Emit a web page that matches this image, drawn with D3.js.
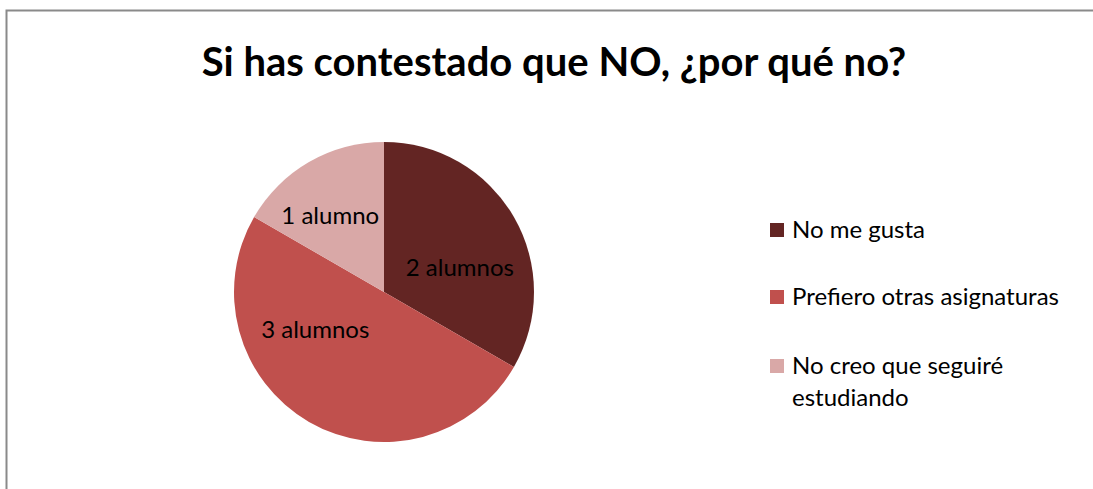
<!DOCTYPE html>
<html>
<head>
<meta charset="utf-8">
<script src="https://cdn.jsdelivr.net/npm/d3@7"></script>
<style>
	html, body { margin: 0; background: #fff; overflow: hidden; }
	svg { display: block; }
</style>
</head>
<body>
<div id="main"></div>
<script>
const title = "Si has contestado que NO, ¿por qué no?";
const categories = ["No me gusta", "Prefiero otras asignaturas", "No creo que seguiré estudiando"];
const values = [2, 3, 1];
const labels = ["2 alumnos", "3 alumnos", "1 alumno"];
const colors = ["#632523", "#c0504d", "#d9a8a7"];

const width = 1093,
	height = 489;
const font = "Lato, 'Open Sans', sans-serif";

const svg = d3
	.select("#main")
	.append("svg")
	.attr("width", width)
	.attr("height", height);

svg.append("rect")
	.attr("width", width)
	.attr("height", height)
	.attr("fill", "#fff");

// chart frame: only the top and left edges are inside the picture
svg.append("path")
	.attr("d", `M6.5,${height + 10}V10.5H${width + 10}`)
	.attr("fill", "none")
	.attr("stroke", "#8a8a8a")
	.attr("stroke-width", 2);

svg.append("text")
	.attr("x", 554)
	.attr("y", 76)
	.attr("text-anchor", "middle")
	.style("font-family", font)
	.style("font-weight", 700)
	.style("font-size", "40px")
	.style("fill", "#000")
	.text(title);

const cx = 384,
	cy = 292,
	r = 150;

const pie = d3.pie().sort(null).value((d) => d);
const arcs = pie(values);
const arc = d3.arc().innerRadius(0).outerRadius(r);

const g = svg.append("g").attr("transform", `translate(${cx},${cy})`);

g.selectAll("path.slice")
	.data(arcs)
	.enter()
	.append("path")
	.classed("slice", true)
	.attr("d", arc)
	.attr("fill", (d, i) => colors[i]);

// excel "best fit" moves the labels away from the plain centroid
const labelArc = d3.arc().innerRadius(r * 0.53).outerRadius(r * 0.53);
const nudge = [[7, 15], [-29, -31], [-14, -8]];

g.selectAll("text.lbl")
	.data(arcs)
	.enter()
	.append("text")
	.classed("lbl", true)
	.attr("transform", (d, i) => {
		const [x, y] = labelArc.centroid(d);
		return `translate(${x + nudge[i][0]},${y + nudge[i][1]})`;
	})
	.attr("text-anchor", "middle")
	.attr("dy", "0.35em")
	.style("font-family", font)
	.style("font-size", "24px")
	.style("fill", "#000")
	.text((d, i) => labels[i]);

// legend
const legendRows = [230, 297, 366];
const legend = svg.append("g").attr("transform", "translate(770,0)");
const items = legend
	.selectAll("g.item")
	.data(categories)
	.enter()
	.append("g")
	.classed("item", true)
	.attr("transform", (d, i) => `translate(0,${legendRows[i]})`);

items.append("rect")
	.attr("x", 0)
	.attr("y", -7)
	.attr("width", 14)
	.attr("height", 14)
	.attr("fill", (d, i) => colors[i]);

items.each(function (d) {
	const t = d3
		.select(this)
		.append("text")
		.attr("x", 22)
		.attr("y", 0)
		.style("font-family", font)
		.style("font-size", "24px")
		.style("fill", "#000");
	const lines = d === categories[2] ? ["No creo que seguiré", "estudiando"] : [d];
	lines.forEach((line, k) => {
		t.append("tspan")
			.attr("x", 22)
			.attr("dy", k === 0 ? "0.35em" : "32px")
			.text(line);
	});
});
</script>
</body>
</html>
